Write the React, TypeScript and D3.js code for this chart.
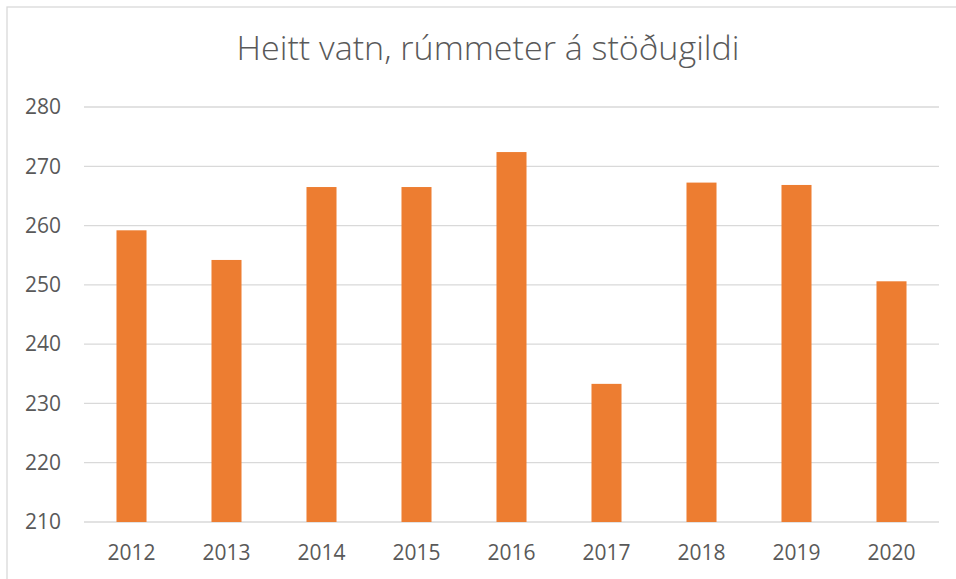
import * as d3 from 'd3';
import React from 'react';

const years = ['2012', '2013', '2014', '2015', '2016', '2017', '2018', '2019', '2020'];
const values = [259.2, 254.2, 266.5, 266.5, 272.4, 233.3, 267.25, 266.85, 250.6];
const yTicks = [210, 220, 230, 240, 250, 260, 270, 280];
const title = 'Heitt vatn, rúmmeter á stöðugildi';

export default function App() {
  const width = 956;
  const height = 579;
  const margin = { top: 107, right: 17, bottom: 57, left: 84 };

  const x = d3.scaleBand()
    .domain(years)
    .range([margin.left, width - margin.right])
    .paddingInner(0.684)
    .paddingOuter(0.342);

  const y = d3.scaleLinear()
    .domain([210, 280])
    .range([height - margin.bottom, margin.top]);

  const font = "'Open Sans', 'DejaVu Sans', sans-serif";

  return (
    <svg width={width} height={height} style={{ position: 'absolute', left: 0, top: 0, background: '#fff' }}>
      {/* chart border */}
      <rect x={7} y={7} width={980} height={600} fill="#fff" stroke="#d9d9d9" strokeWidth={1.3} />

      <text x={488} y={60} textAnchor="middle" fontFamily={font} fontWeight={300} fontSize={33}
        fill="#595959" textLength={503} lengthAdjust="spacingAndGlyphs">{title}</text>

      {/* gridlines + y labels */}
      {yTicks.map(t => (
        <g key={t}>
          <line x1={margin.left} x2={width - margin.right} y1={y(t)} y2={y(t)} stroke="#d9d9d9" strokeWidth={1.3} />
          <text x={61} y={y(t)} dy="0.35em" textAnchor="end" fontFamily={font} fontSize={21} fill="#595959">{t}</text>
        </g>
      ))}

      {/* bars */}
      {values.map((v, i) => (
        <rect key={years[i]} x={x(years[i])} y={y(v)} width={x.bandwidth()} height={y(210) - y(v)} fill="#ED7D31" />
      ))}

      {/* x labels */}
      {years.map(yr => (
        <text key={yr} x={(x(yr) as number) + x.bandwidth() / 2} y={560} textAnchor="middle"
          fontFamily={font} fontSize={21} fill="#595959">{yr}</text>
      ))}
    </svg>
  );
}
